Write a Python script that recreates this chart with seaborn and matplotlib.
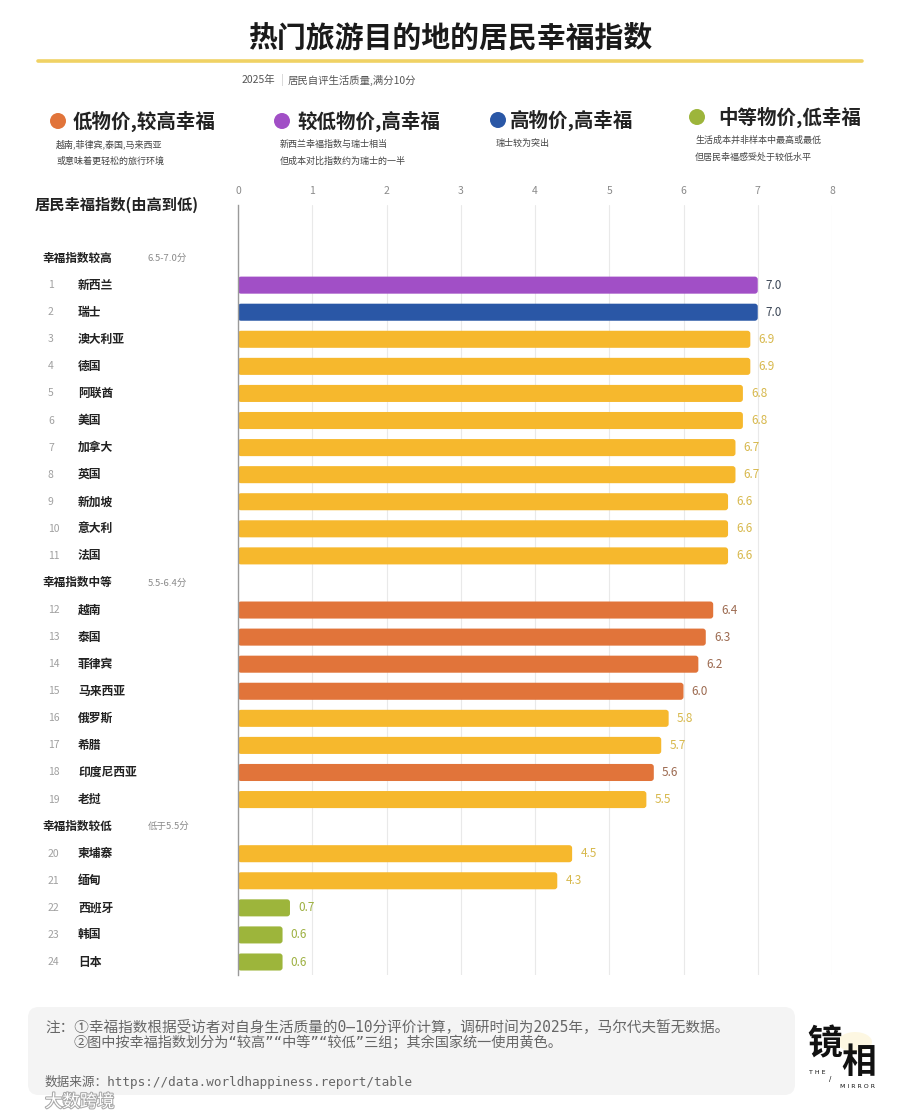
import numpy as np
import pandas as pd
import seaborn as sns
import matplotlib.pyplot as plt
import matplotlib.patheffects as pe
from matplotlib import transforms
from matplotlib.patches import FancyBboxPatch, Ellipse
from matplotlib.lines import Line2D

# ---- data ----
countries = ["新西兰", "瑞士", "澳大利亚", "德国", "阿联酋", "美国", "加拿大", "英国",
             "新加坡", "意大利", "法国",
             "越南", "泰国", "菲律宾", "马来西亚", "俄罗斯", "希腊", "印度尼西亚", "老挝",
             "柬埔寨", "缅甸", "西班牙", "韩国", "日本"]
scores = [7.0, 7.0, 6.9, 6.9, 6.8, 6.8, 6.7, 6.7, 6.6, 6.6, 6.6,
          6.4, 6.3, 6.2, 6.0, 5.8, 5.7, 5.6, 5.5,
          4.5, 4.3, 0.7, 0.6, 0.6]
groups = ["较低物价,高幸福", "高物价,高幸福"] + ["其余国家"] * 9 + \
         ["低物价,较高幸福"] * 4 + ["其余国家"] * 2 + ["低物价,较高幸福", "其余国家"] + \
         ["其余国家"] * 2 + ["中等物价,低幸福"] * 3

band_titles = ["幸福指数较高", "幸福指数中等", "幸福指数较低"]
band_ranges = ["6.5-7.0分", "5.5-6.4分", "低于5.5分"]
band_sizes = [11, 8, 5]

legend_titles = ["低物价,较高幸福", "较低物价,高幸福", "高物价,高幸福", "中等物价,低幸福"]
legend_notes = [["越南,菲律宾,泰国,马来西亚", "或意味着更轻松的旅行环境"],
                ["新西兰幸福指数与瑞士相当", "但成本对比指数约为瑞士的一半"],
                ["瑞士较为突出"],
                ["生活成本并非样本中最高或最低", "但居民幸福感受处于较低水平"]]

palette = {"较低物价,高幸福": "#a14fc6", "高物价,高幸福": "#2a57a6", "其余国家": "#f6b82d",
           "低物价,较高幸福": "#e1743a", "中等物价,低幸福": "#9db53b"}
label_colors = {"较低物价,高幸福": "#3b4656", "高物价,高幸福": "#3b4656", "其余国家": "#d7b84c",
                "低物价,较高幸福": "#9c6a50", "中等物价,低幸福": "#9db040"}

sns.set_theme(style="white")
plt.rcParams["font.family"] = ["Noto Sans CJK SC", "DejaVu Sans"]

df = pd.DataFrame({"country": countries, "score": scores, "group": groups})

# slots: band header rows are left empty in the category order
order = []
start = 0
for b, n in enumerate(band_sizes):
    order.append(f"_band{b}")
    order += countries[start:start + n]
    start += n

W, H = 900, 1118
fig = plt.figure(figsize=(W / 100, H / 100), dpi=100)
ax = fig.add_axes([238 / W, 1 - 975 / H, 594 / W, 770 / H])

sns.barplot(data=df, x="score", y="country", hue="group", order=order, palette=palette,
            dodge=False, width=0.63, saturation=1, legend=False, ax=ax)

# rounded bar ends
for p in list(ax.patches):
    w = p.get_width()
    if not np.isfinite(w) or w <= 0:
        continue
    x, y, h = p.get_x(), p.get_y(), p.get_height()
    fc = p.get_facecolor()
    p.remove()
    ax.add_patch(FancyBboxPatch((x, y), w, h, boxstyle="round,pad=0,rounding_size=0.04",
                                mutation_aspect=2.6, fc=fc, ec="none", zorder=2))

ax.set_xlim(0, 8)
ax.set_ylim(26.48, -1.96)
ax.set_xticks(range(9))
ax.xaxis.tick_top()
ax.tick_params(axis="x", length=0, pad=6.5, labelsize=7.5, labelcolor="#8a8a8a")
ax.set_yticks([])
ax.set_xlabel("")
ax.set_ylabel("")
ax.grid(axis="x", color="#e9e9e9", lw=0.8)
ax.set_axisbelow(True)
for s in ["top", "right", "bottom"]:
    ax.spines[s].set_visible(False)
ax.spines["left"].set_color("#9a9a9a")
ax.spines["left"].set_linewidth(1.0)

# value labels
for c, v, g in zip(countries, scores, groups):
    ax.text(v + 0.11, order.index(c), f"{v:.1f}", va="center", ha="left",
            fontsize=8.5, color=label_colors[g],
            fontweight="medium" if g in ("较低物价,高幸福", "高物价,高幸福") else "normal")

# left-hand labels
trans = transforms.blended_transform_factory(fig.transFigure, ax.transData)
rank = 0
for i, key in enumerate(order):
    if key.startswith("_band"):
        b = int(key[-1])
        ax.text(42 / W, i, band_titles[b], transform=trans, va="center", ha="left",
                fontsize=8.4, fontweight="bold", color="#222222")
        ax.text(148 / W, i, band_ranges[b], transform=trans, va="center", ha="left",
                fontsize=6.8, color="#8a8a8a")
    else:
        rank += 1
        ax.text(48 / W, i, str(rank), transform=trans, va="center", ha="left",
                fontsize=7.5, color="#a0a0a0")
        ax.text(78 / W, i, key, transform=trans, va="center", ha="left",
                fontsize=8.5, fontweight="bold", color="#222222")

# header
fig.text(0.5, 1 - 37 / H, "热门旅游目的地的居民幸福指数", ha="center", va="center",
         fontsize=20.8, fontweight="bold", color="#1a1a1a")
fig.add_artist(Line2D([38 / W, 862 / W], [1 - 61 / H] * 2, color="#f0d264", lw=2.6))
fig.text(275 / W, 1 - 80 / H, "2025年", ha="right", va="center", fontsize=7.5, color="#555555")
fig.text(282 / W, 1 - 80 / H, "|", ha="center", va="center", fontsize=8, color="#cfcfcf")
fig.text(288 / W, 1 - 80 / H, "居民自评生活质量,满分10分", ha="left", va="center",
         fontsize=7.5, color="#555555")

# legend blocks
leg_colors = [palette["低物价,较高幸福"], palette["较低物价,高幸福"],
              palette["高物价,高幸福"], palette["中等物价,低幸福"]]
leg_x = [58, 282, 498, 697]
leg_y = [121, 121, 120, 117]
leg_tx = [73, 297, 510, 718]
for k in range(4):
    fig.add_artist(Ellipse((leg_x[k] / W, 1 - leg_y[k] / H), 16 / W, 16 / H,
                           fc=leg_colors[k], ec="none"))
    fig.text(leg_tx[k] / W, 1 - leg_y[k] / H, legend_titles[k], ha="left", va="center",
             fontsize=14, fontweight="bold", color="#222222")
    for j, line in enumerate(legend_notes[k]):
        fig.text((leg_x[k] - 2) / W, 1 - (leg_y[k] + 23 + 17 * j) / H, line, ha="left",
                 va="center", fontsize=6.5, color="#444444")

fig.text(35 / W, 1 - 205 / H, "居民幸福指数(由高到低)", ha="left", va="center",
         fontsize=11, fontweight="bold", color="#222222")

# footer note box
fig.add_artist(FancyBboxPatch((28 / W, 1 - 1095 / H), 767 / W, 88 / H,
                              boxstyle="round,pad=0,rounding_size=0.012",
                              mutation_aspect=W / H, fc="#f4f4f4", ec="none"))
note_font = ["DejaVu Sans Mono", "Noto Sans CJK SC"]
fig.text(45 / W, 1 - 1027 / H,
         "注：①幸福指数根据受访者对自身生活质量的0—10分评价计算，调研时间为2025年，马尔代夫暂无数据。",
         ha="left", va="center", fontsize=10.5, color="#666666", family=note_font,
         fontweight="light")
fig.text(73 / W, 1 - 1043 / H,
         "②图中按幸福指数划分为“较高”“中等”“较低”三组；其余国家统一使用黄色。",
         ha="left", va="center", fontsize=10.2, color="#666666", family=note_font,
         fontweight="light")
fig.text(45 / W, 1 - 1082 / H, "数据来源：https://data.worldhappiness.report/table",
         ha="left", va="center", fontsize=9.1, color="#666666", family=note_font)

# logo
fig.add_artist(Ellipse((855 / W, 1 - 1042 / H), 34 / W, 20 / H, fc="#fbefc0",
                       ec="none", alpha=0.45))
fig.text(807 / W, 1 - 1044 / H, "镜", ha="left", va="center", fontsize=25,
         fontweight="heavy", color="#111111")
fig.text(841 / W, 1 - 1063 / H, "相", ha="left", va="center", fontsize=25,
         fontweight="heavy", color="#111111")
fig.text(809 / W, 1 - 1072 / H, "T H E", ha="left", va="center", fontsize=4.5,
         color="#111111", family="DejaVu Sans")
fig.text(829 / W, 1 - 1079 / H, "/", ha="left", va="center", fontsize=5,
         color="#111111", family="DejaVu Sans")
fig.text(840 / W, 1 - 1087 / H, "M I R R O R", ha="left", va="center", fontsize=4.5,
         color="#111111", family="DejaVu Sans")

# platform watermark
fig.text(45 / W, 1 - 1102 / H, "大数跨境", ha="left", va="center", fontsize=12.5,
         color="#ffffff", path_effects=[pe.withStroke(linewidth=1.5, foreground="#a8a8a8")])

fig.savefig("out.png", dpi=100, facecolor="white")
